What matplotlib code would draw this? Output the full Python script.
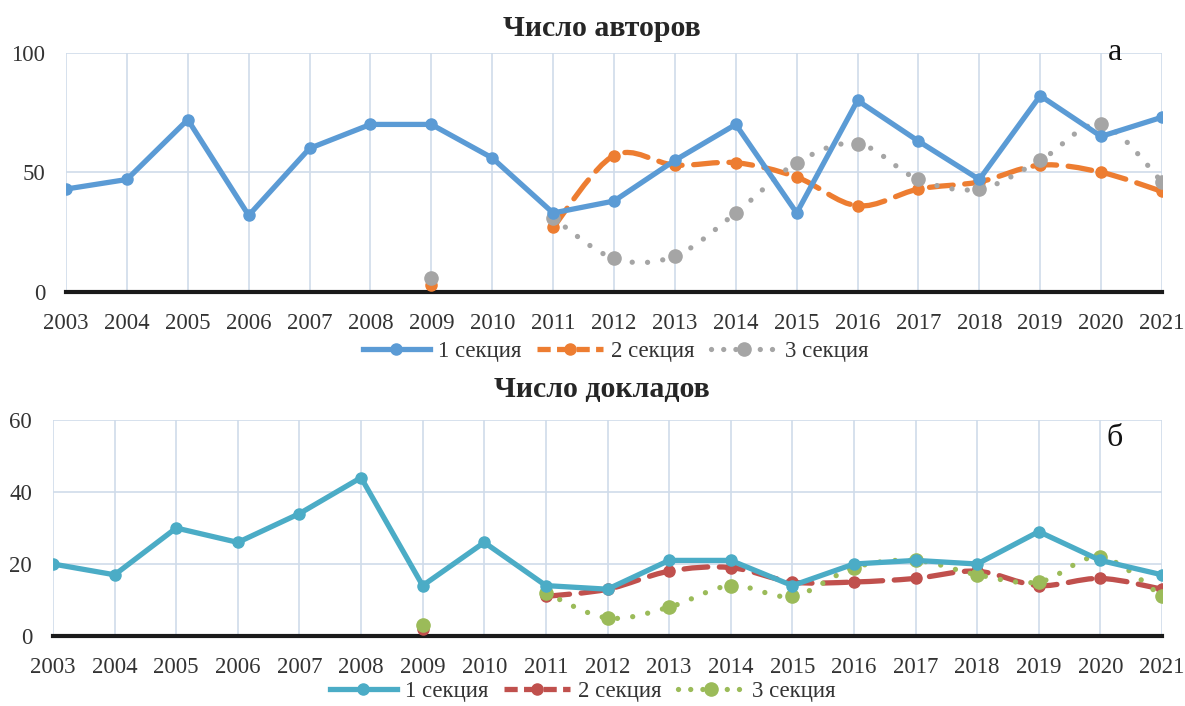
import numpy as np
import matplotlib
matplotlib.use("Agg")
import matplotlib.pyplot as plt
from matplotlib.path import Path
from matplotlib.patches import PathPatch
from matplotlib.lines import Line2D

nan = np.nan
years = list(range(2003, 2022))

# Panel a: number of authors
authors_s1 = [43, 47, 72, 32, 60, 70, 70, 56, 33, 38, 55, 70, 33, 80, 63, 47, 82, 65, 73]
authors_s2 = [nan, nan, nan, nan, nan, nan, 3, nan, 27, 57, 53, 54, 48, 36, 43, 46, 53, 50, 42]
authors_s3 = [nan, nan, nan, nan, nan, nan, 6, nan, 31, 14, 15, 33, 54, 62, 47, 43, 55, 70, 46]

# Panel b: number of reports
reports_s1 = [20, 17, 30, 26, 34, 44, 14, 26, 14, 13, 21, 21, 14, 20, 21, 20, 29, 21, 17]
reports_s2 = [nan, nan, nan, nan, nan, nan, 2, nan, 11, 13, 18, 19, 15, 15, 16, 18, 14, 16, 13]
reports_s3 = [nan, nan, nan, nan, nan, nan, 3, nan, 12, 5, 8, 14, 11, 19, 21, 17, 15, 22, 11]

labels = ["1 секция", "2 секция", "3 секция"]
titles = ["Число авторов", "Число докладов"]
panel_letters = ["а", "б"]

SERIF = ["Liberation Serif", "DejaVu Serif"]
plt.rcParams['font.family'] = SERIF

fig = plt.figure(figsize=(11.85, 7.06), dpi=100)

grid_c = "#cfdcea"
tick_c = "#333333"
FS = 16.5


def smooth_path(xs, ys):
    """Bezier (Catmull-Rom style) path through consecutive valid points, like Excel smoothing."""
    xs = np.asarray(xs, float)
    ys = np.asarray(ys, float)
    verts, codes = [], []
    valid = ~np.isnan(ys)
    i = 0
    n = len(xs)
    while i < n:
        if not valid[i]:
            i += 1
            continue
        j = i
        while j + 1 < n and valid[j + 1]:
            j += 1
        if j > i:
            px, py = xs[i:j + 1], ys[i:j + 1]
            m = len(px)
            verts.append((px[0], py[0]))
            codes.append(Path.MOVETO)
            for k in range(m - 1):
                k0 = max(k - 1, 0)
                k3 = min(k + 2, m - 1)
                c1 = (px[k] + (px[k + 1] - px[k0]) / 6, py[k] + (py[k + 1] - py[k0]) / 6)
                c2 = (px[k + 1] - (px[k3] - px[k]) / 6, py[k + 1] - (py[k3] - py[k]) / 6)
                verts += [c1, c2, (px[k + 1], py[k + 1])]
                codes += [Path.CURVE4] * 3
        i = j + 1
    return Path(verts, codes)


def panel(rect, s1, s2, s3, colors, ymax, yticks, title, title_y, letter, letter_y, leg_x, leg_y):
    ax = fig.add_axes(rect)
    ax.set_xlim(2003, 2021)
    ax.set_ylim(0, ymax)
    ax.set_xticks(years)
    ax.set_yticks(yticks)
    ax.grid(True, color=grid_c, linewidth=1.2)
    ax.set_axisbelow(True)
    for side in ["top", "right", "left"]:
        ax.spines[side].set_visible(False)
    ax.spines["bottom"].set_linewidth(3)
    ax.spines["bottom"].set_color("#1a1a1a")
    ax.spines["bottom"].set_zorder(1.5)
    ax.tick_params(length=0, labelsize=FS, colors=tick_c)
    ax.tick_params(axis="x", pad=15)
    ax.tick_params(axis="y", pad=15)
    lw = 3.8
    ax.plot(years, s1, color=colors[0], lw=lw, marker="o", ms=8, zorder=4, solid_joinstyle="round")
    p2 = PathPatch(smooth_path(years, s2), fill=False, edgecolor=colors[1], lw=lw,
                   linestyle=(0, (4.5, 2.2)), capstyle="round", zorder=3)
    ax.add_patch(p2)
    ax.plot(years, s2, color=colors[1], ls="none", marker="o", ms=8, zorder=3)
    p3 = PathPatch(smooth_path(years, s3), fill=False, edgecolor=colors[2], lw=lw,
                   linestyle=(0, (0.01, 2.9)), capstyle="round", zorder=3)
    ax.add_patch(p3)
    ax.plot(years, s3, color=colors[2], ls="none", marker="o", ms=9.5, zorder=3)

    fig.text(0.508, title_y, title, ha="center", va="center", fontsize=21.5,
             fontweight="bold", color="#262626")
    fig.text(0.941, letter_y, letter, ha="center", va="center", fontsize=23, color="#111111")

    handles = [
        Line2D([], [], color=colors[0], lw=lw, marker="o", ms=8),
        Line2D([], [], color=colors[1], lw=lw, marker="o", ms=8, ls=(0, (2.5, 1.2))),
        Line2D([], [], color=colors[2], lw=lw, marker="o", ms=9.5, ls=(0, (0.01, 2.3)),
               dash_capstyle="round"),
    ]
    fig.legend(handles, labels, loc="center", bbox_to_anchor=(leg_x, leg_y), ncol=3,
               frameon=False, fontsize=FS, handlelength=2.9, handletextpad=0.35,
               columnspacing=0.7, labelcolor=tick_c)
    return ax


panel([66 / 1185, 1 - 292 / 706, 1096 / 1185, 239.4 / 706],
      authors_s1, authors_s2, authors_s3,
      ["#5B9BD5", "#ED7D31", "#A5A5A5"], 100, [0, 50, 100],
      titles[0], 1 - 28 / 706, panel_letters[0], 1 - 52 / 706, 616 / 1185, 1 - 351 / 706)

panel([53 / 1185, 1 - 636 / 706, 1109 / 1185, 216 / 706],
      reports_s1, reports_s2, reports_s3,
      ["#4BACC6", "#C0504D", "#9BBB59"], 60, [0, 20, 40, 60],
      titles[1], 1 - 389 / 706, panel_letters[1], 1 - 438 / 706, 583 / 1185, 1 - 691 / 706)

fig.savefig("out.png", dpi=100, facecolor="white")
